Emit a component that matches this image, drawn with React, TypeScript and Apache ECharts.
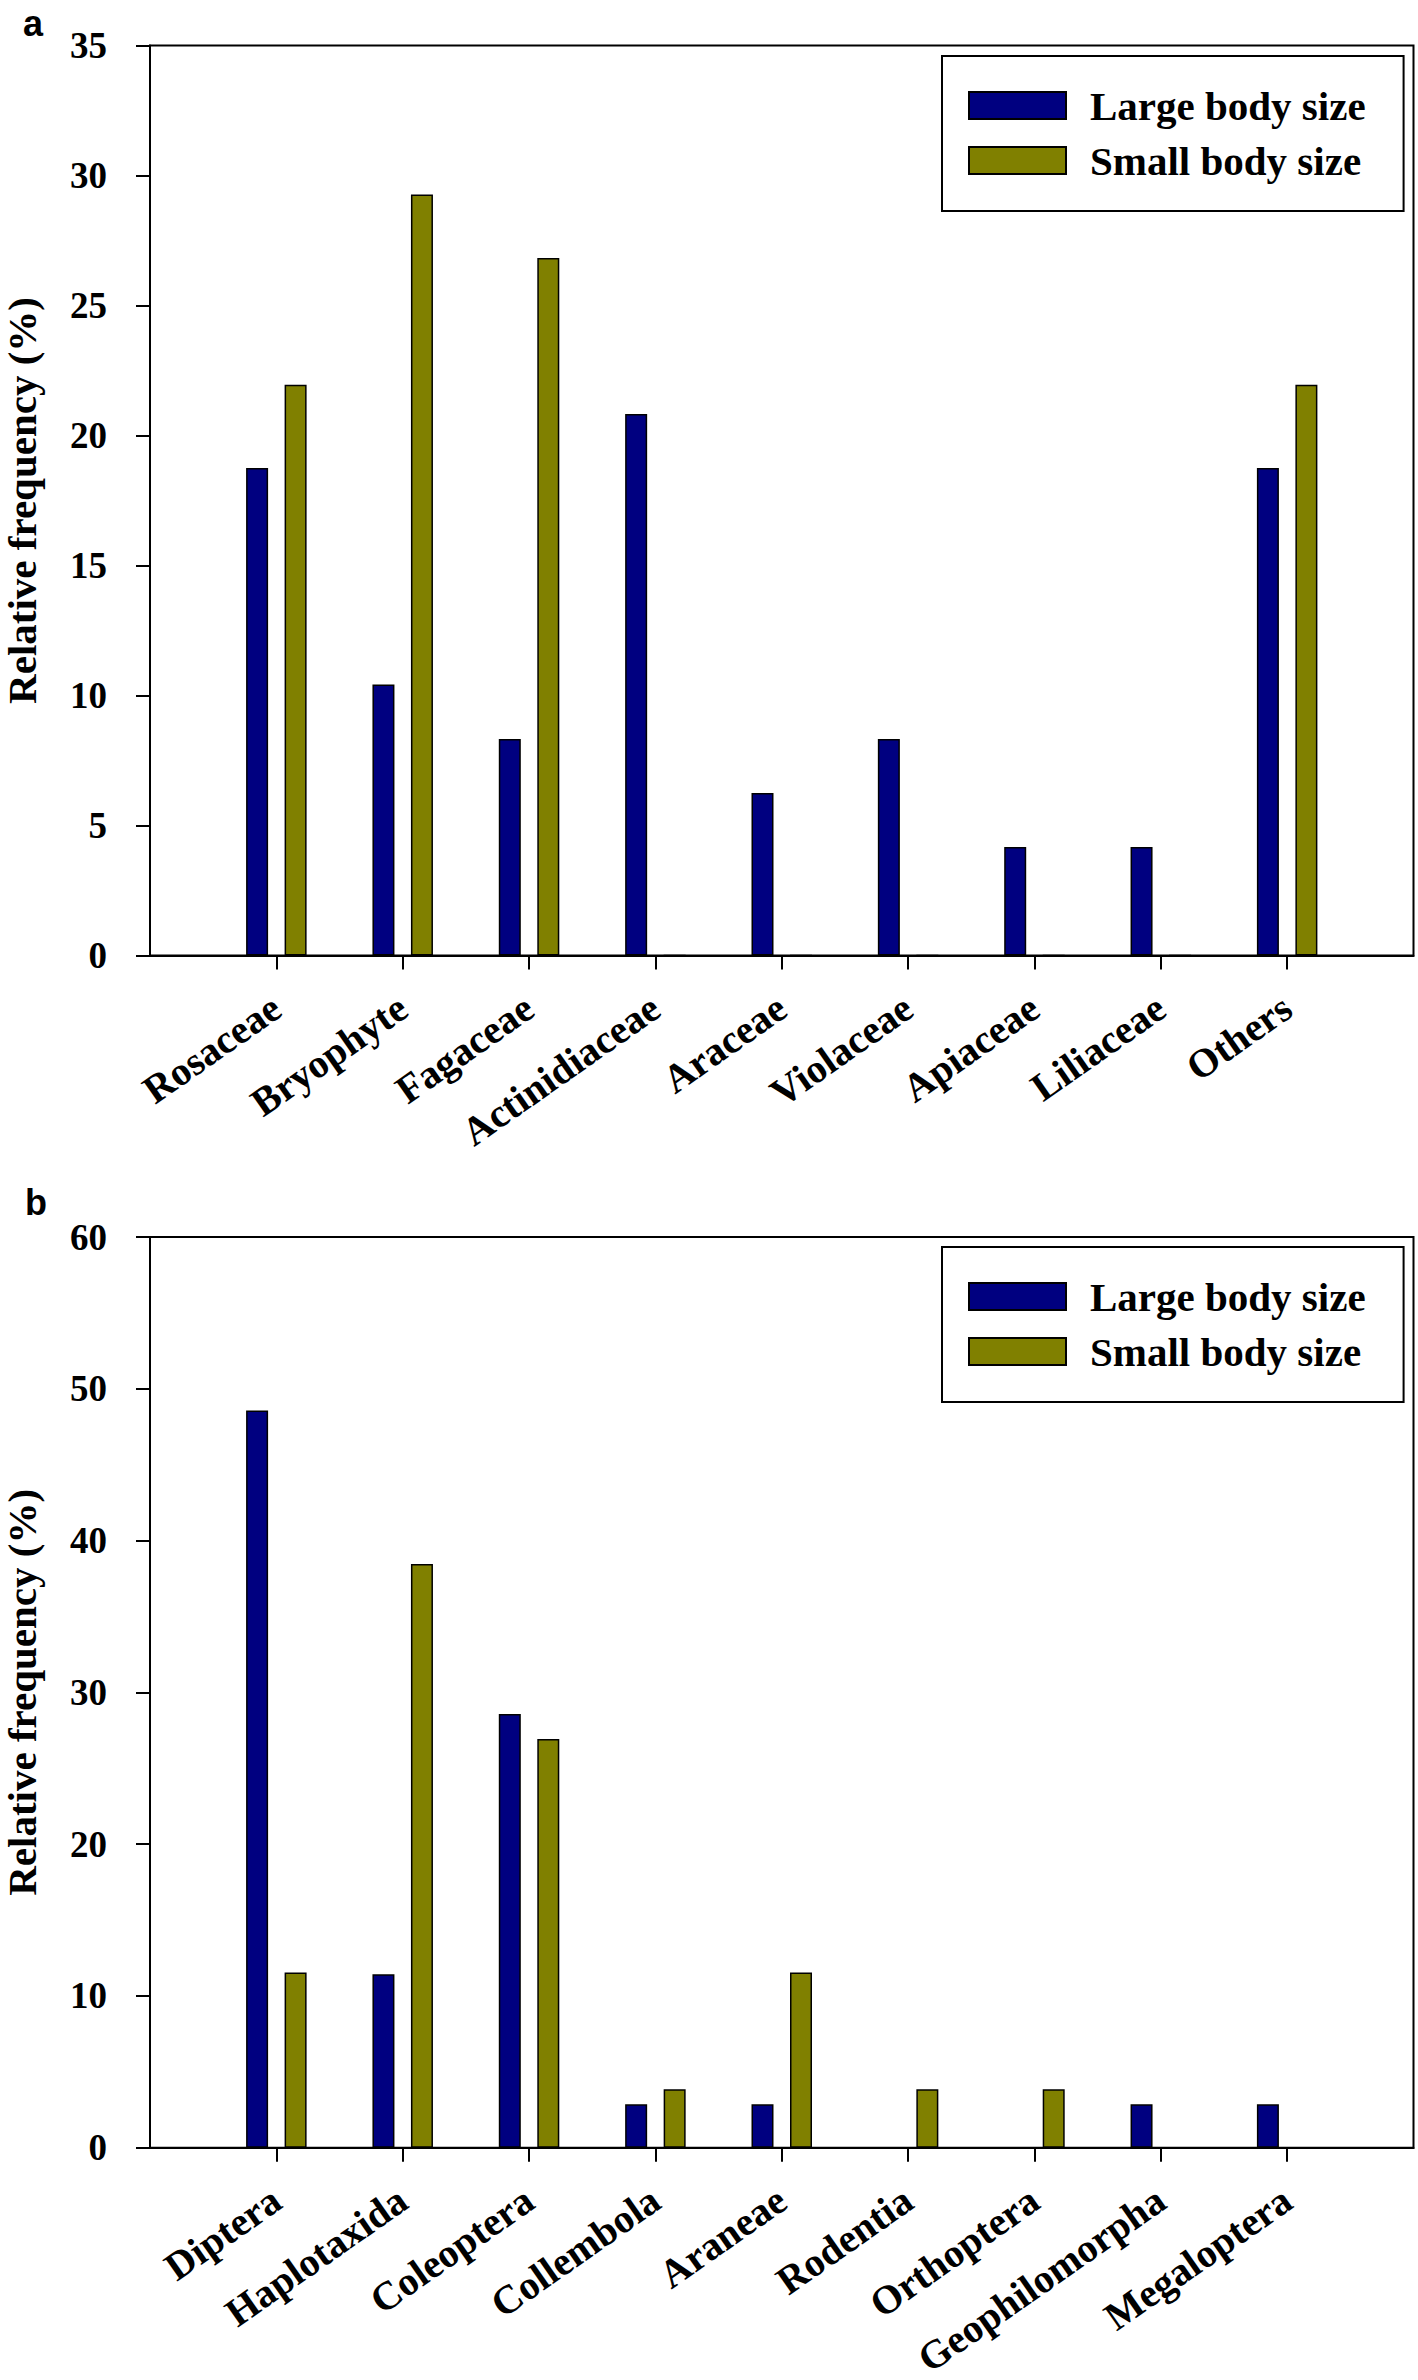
import React, { useEffect, useRef } from "react";
import * as echarts from "echarts";

const categoriesA = ["Rosaceae", "Bryophyte", "Fagaceae", "Actinidiaceae", "Araceae", "Violaceae", "Apiaceae", "Liliaceae", "Others"];
const largeA = [18.75, 10.42, 8.33, 20.83, 6.25, 8.33, 4.17, 4.17, 18.75];
const smallA = [21.95, 29.27, 26.83, 0, 0, 0, 0, 0, 21.95];

const categoriesB = ["Diptera", "Haplotaxida", "Coleoptera", "Collembola", "Araneae", "Rodentia", "Orthoptera", "Geophilomorpha", "Megaloptera"];
const largeB = [48.57, 11.43, 28.57, 2.86, 2.86, 0, 0, 2.86, 2.86];
const smallB = [11.54, 38.46, 26.92, 3.85, 11.54, 3.85, 3.85, 0, 0];

const seriesNames = ["Large body size", "Small body size"];
const seriesColors = ["#000080", "#808000"];
const yMaxA = 35;
const yStepA = 5;
const yMaxB = 60;
const yStepB = 10;
const yTitle = "Relative frequency (%)";

const SERIF = "'Liberation Serif', 'Times New Roman', serif";
const SANS = "'Liberation Sans', Arial, sans-serif";

function pad<T>(arr: T[], empty: T): T[] {
  return [empty, ...arr, empty];
}

export default function App() {
  const ref = useRef<HTMLDivElement>(null);
  useEffect(() => {
    if (!ref.current) return;
    const chart = echarts.init(ref.current, undefined, { renderer: "svg" });
    const n = categoriesA.length;
    const showIdx = (i: number) => i > 0 && i <= n;

    const xAxisBase = (idx: number, cats: string[]) => ({
      type: "category",
      gridIndex: idx,
      boundaryGap: false,
      data: pad(cats, ""),
      axisLine: { show: true, lineStyle: { color: "#000", width: 2 } },
      axisTick: {
        show: true,
        interval: (i: number) => showIdx(i),
        length: 14,
        lineStyle: { color: "#000", width: 2 },
      },
      axisLabel: {
        interval: (i: number) => showIdx(i),
        rotate: 35,
        margin: 48,
        color: "#000",
        fontFamily: SERIF,
        fontWeight: "bold",
        fontSize: 40,
      },
      splitLine: { show: false },
    });

    const yAxisBase = (idx: number, max: number, step: number) => ({
      type: "value",
      gridIndex: idx,
      min: 0,
      max,
      interval: step,
      name: yTitle,
      nameLocation: "middle",
      nameRotate: 90,
      nameGap: 108,
      nameTextStyle: {
        color: "#000",
        fontFamily: SERIF,
        fontWeight: "bold",
        fontSize: 41,
      },
      axisLine: { show: true, lineStyle: { color: "#000", width: 2 } },
      axisTick: { show: true, inside: false, length: 14, lineStyle: { color: "#000", width: 2 } },
      axisLabel: {
        margin: 43,
        color: "#000",
        fontFamily: SERIF,
        fontWeight: "bold",
        fontSize: 37,
      },
      splitLine: { show: false },
    });

    const barSeries = (name: string, color: string, data: number[], idx: number) => ({
      type: "bar",
      name,
      xAxisIndex: idx,
      yAxisIndex: idx,
      data: pad(data as (number | null)[], null),
      barWidth: 22,
      barGap: "75%",
      itemStyle: { color, borderColor: "#000", borderWidth: 1.5 },
      emphasis: { disabled: true },
    });

    const legendBase = (top: number) => ({
      orient: "vertical",
      left: 942,
      top,
      data: seriesNames,
      icon: "rect",
      itemWidth: 97,
      itemHeight: 27,
      itemGap: 14,
      padding: [29, 38, 30, 26],
      borderColor: "#000",
      borderWidth: 2,
      selectedMode: false,
      textStyle: {
        color: "#000",
        fontFamily: SERIF,
        fontWeight: "bold",
        fontSize: 41,
        lineHeight: 40,
        padding: [0, 0, 0, 19],
      },
    });

    const gridBase = (top: number, height: number) => ({
      left: 150,
      top,
      width: 1263.5,
      height,
      show: true,
      borderColor: "#000",
      borderWidth: 2,
      backgroundColor: "transparent",
      containLabel: false,
      outerBoundsMode: "none",
    });

    chart.setOption({
      animation: false,
      backgroundColor: "#fff",
      grid: [gridBase(45.5, 910), gridBase(1237, 910.7)],
      xAxis: [xAxisBase(0, categoriesA), xAxisBase(1, categoriesB)],
      yAxis: [yAxisBase(0, yMaxA, yStepA), yAxisBase(1, yMaxB, yStepB)],
      legend: [legendBase(56), legendBase(1247)],
      series: [
        barSeries(seriesNames[0], seriesColors[0], largeA, 0),
        barSeries(seriesNames[1], seriesColors[1], smallA, 0),
        barSeries(seriesNames[0], seriesColors[0], largeB, 1),
        barSeries(seriesNames[1], seriesColors[1], smallB, 1),
      ],
      graphic: [
        {
          type: "text",
          x: 23,
          y: 23.5,
          style: { text: "a", fill: "#000", fontFamily: SANS, fontWeight: "bold", fontSize: 36, lineHeight: 24, align: "left", verticalAlign: "middle" },
        },
        {
          type: "text",
          x: 25,
          y: 1202.5,
          style: { text: "b", fill: "#000", fontFamily: SANS, fontWeight: "bold", fontSize: 36, lineHeight: 24, align: "left", verticalAlign: "middle" },
        },
      ],
    });
    return () => chart.dispose();
  }, []);
  return (
    <div
      ref={ref}
      style={{ position: "absolute", left: 0, top: 0, width: 1418, height: 2380, background: "#fff" }}
    />
  );
}
